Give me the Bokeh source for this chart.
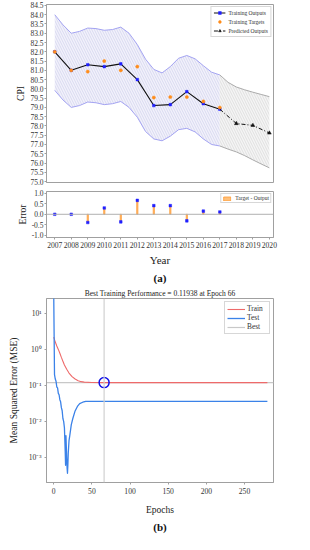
from bokeh.plotting import figure
from bokeh.layouts import column
from bokeh.models import (Range1d, FixedTicker, Span, Legend, LegendItem, Title,
                          PrintfTickFormatter)
from bokeh.embed import file_html
from bokeh.resources import INLINE

# ---------------- data: panel (a) ----------------
years_train = [2007, 2008, 2009, 2010, 2011, 2012, 2013, 2014, 2015, 2016, 2017]
train_outputs = [82.0, 81.0, 81.3, 81.2, 81.35, 80.5, 79.1, 79.15, 79.85, 79.2, 78.9]
train_targets = [82.0, 81.0, 80.93, 81.5, 81.0, 81.2, 79.53, 79.56, 79.56, 79.32, 78.99]
years_pred = [2017, 2018, 2019, 2020]
pred_outputs = [78.9, 78.13, 78.03, 77.62]
errors = [0.0, 0.0, -0.39, 0.3, -0.36, 0.66, 0.41, 0.41, -0.31, 0.15, 0.11]

band_years = [2007.0, 2007.5, 2008.0, 2008.5, 2009.0, 2009.5, 2010.0, 2010.5, 2011.0,
              2011.5, 2012.0, 2012.5, 2013.0, 2013.5, 2014.0, 2014.5, 2015.0, 2015.5,
              2016.0, 2016.5, 2017.0]
band_upper = [84.0, 83.45, 83.0, 83.1, 83.28, 83.25, 83.16, 83.2, 83.33, 83.0, 82.39,
              81.6, 81.05, 80.86, 81.2, 81.65, 81.8, 81.62, 81.25, 80.9, 80.75]
band_lower = [79.92, 79.4, 79.0, 79.1, 79.29, 79.25, 79.15, 79.2, 79.32, 79.0, 78.47,
              77.7, 77.3, 77.2, 77.45, 77.8, 77.87, 77.68, 77.3, 77.0, 76.92]
pred_band_years = [2017.0, 2017.5, 2018.0, 2018.5, 2019.0, 2019.5, 2020.0]
pred_band_upper = [80.75, 80.35, 80.1, 79.95, 79.82, 79.7, 79.58]
pred_band_lower = [76.92, 76.75, 76.6, 76.4, 76.17, 75.95, 75.74]

cpi_ticks = [75.0, 75.5, 76.0, 76.5, 77.0, 77.5, 78.0, 78.5, 79.0, 79.5, 80.0, 80.5,
             81.0, 81.5, 82.0, 82.5, 83.0, 83.5, 84.0, 84.5]
error_ticks = [-1.0, -0.5, 0.0, 0.5, 1.0]
year_ticks = [2007, 2008, 2009, 2010, 2011, 2012, 2013, 2014, 2015, 2016, 2017, 2018, 2019, 2020]

# ---------------- data: panel (b) ----------------
train_epochs = [0, 2, 4, 6, 8, 10, 12, 14, 17, 20, 24, 28, 32, 36, 40, 50, 66, 280]
train_mse = [2.2, 1.6, 1.25, 1.0, 0.78, 0.6, 0.47, 0.37, 0.28, 0.22, 0.175, 0.15,
             0.135, 0.127, 0.123, 0.12, 0.11938, 0.1193]
test_epochs = [0, 1, 2, 3, 4, 5, 6, 7, 8, 9, 10, 11, 12, 13, 14, 15, 15.5, 16, 17,
               17.5, 18, 18.5, 19, 20, 21, 23, 25, 28, 31, 34, 38, 42, 50, 280]
test_mse = [30.0, 0.2, 0.15, 0.13, 0.09, 0.085, 0.06, 0.055, 0.04, 0.035, 0.024, 0.02,
            0.012, 0.01, 0.0066, 0.0015, 0.0006, 0.004, 0.0009, 0.0005, 0.00036,
            0.0006, 0.0013, 0.0029, 0.004, 0.0081, 0.012, 0.0195, 0.026, 0.031, 0.034,
            0.036, 0.036, 0.036]
best_epoch = 66
best_perf = 0.11938
epoch_ticks = [0, 50, 100, 150, 200, 250]
mse_ticks = [0.001, 0.01, 0.1, 1.0, 10.0]
mse_tick_labels = ["10\u207b\u00b3", "10\u207b\u00b2", "10\u207b\u00b9", "10\u2070", "10\u00b9"]

SERIF = "Liberation Serif"
AXC = "#a0a0a0"


def style_axis(ax, tick_size="7.5px", label_size="10px"):
    ax.axis_line_color = AXC
    ax.major_tick_line_color = AXC
    ax.minor_tick_line_color = None
    ax.major_tick_out = 2
    ax.major_tick_in = 0
    ax.major_label_text_font = SERIF
    ax.major_label_text_font_size = tick_size
    ax.major_label_text_color = "#333333"
    ax.major_label_standoff = 1
    ax.axis_label_text_font = SERIF
    ax.axis_label_text_font_style = "normal"
    ax.axis_label_text_font_size = label_size
    ax.axis_label_text_color = "#222222"
    ax.axis_label_standoff = 1


def base(p):
    p.outline_line_color = AXC
    p.xgrid.grid_line_color = None
    p.ygrid.grid_line_color = None
    p.background_fill_color = "white"
    p.border_fill_color = "white"


# ================= panel (a) top: CPI =================
x_rng = (2006.5, 2020.25)
p1 = figure(width=294, height=188, x_range=Range1d(*x_rng), y_range=Range1d(74.95, 84.55),
            output_backend="svg", toolbar_location=None,
            min_border_left=27, min_border_right=3, min_border_top=4, min_border_bottom=6)
base(p1)
p1.xaxis.visible = False
p1.yaxis.ticker = FixedTicker(ticks=cpi_ticks)
p1.yaxis.formatter = PrintfTickFormatter(format="%.1f")
p1.yaxis.axis_label = "CPI"
style_axis(p1.yaxis[0], "7.5px", "9.5px")

p1.varea(x=band_years, y1=band_lower, y2=band_upper, fill_color="#f2f2fb",
         hatch_pattern="\\", hatch_color="#c8c8e8", hatch_scale=5, hatch_weight=0.6)
p1.line(band_years, band_upper, line_color="#a4a4f2", line_width=1)
p1.line(band_years, band_lower, line_color="#a4a4f2", line_width=1)
p1.varea(x=pred_band_years, y1=pred_band_lower, y2=pred_band_upper, fill_color="#f5f5f5",
         hatch_pattern="\\", hatch_color="#d2d2d2", hatch_scale=5, hatch_weight=0.6)
p1.line(pred_band_years, pred_band_upper, line_color="#ababab", line_width=1)
p1.line(pred_band_years, pred_band_lower, line_color="#ababab", line_width=1)

l_out = p1.line(years_train, train_outputs, line_color="#111111", line_width=1.1)
s_out = p1.scatter(years_train, train_outputs, marker="square", size=2.6,
                   fill_color="#2020ff", line_color="#2020ff", line_width=0.5)
s_tar = p1.scatter(years_train, train_targets, marker="circle", size=3.2,
                   fill_color="#ff8c1a", line_color="#ff8c1a", line_width=0.5)
l_pred = p1.line(years_pred, pred_outputs, line_color="#111111", line_dash="4 2 1 2",
                 line_width=1)
s_pred = p1.scatter(years_pred[1:], pred_outputs[1:], marker="triangle", size=3.8,
                    fill_color="#111111", line_color="#111111", line_width=0.5)

leg1 = Legend(items=[LegendItem(label="Training Outputs", renderers=[l_out, s_out]),
                     LegendItem(label="Training Targets", renderers=[s_tar]),
                     LegendItem(label="Predicted Outputs", renderers=[l_pred, s_pred])],
              location="top_right", label_text_font=SERIF, label_text_font_size="5.5px",
              label_text_color="#333333", glyph_width=12, glyph_height=7, label_height=7,
              spacing=2, padding=2, margin=2, label_standoff=3,
              border_line_color="#b0b0b0", background_fill_alpha=1.0)
p1.add_layout(leg1)

# ================= panel (a) bottom: Error =================
p2 = figure(width=294, height=96, x_range=Range1d(*x_rng), y_range=Range1d(-1.1, 1.08),
            output_backend="svg", toolbar_location=None,
            min_border_left=27, min_border_right=3, min_border_top=3, min_border_bottom=47)
base(p2)
p2.yaxis.ticker = FixedTicker(ticks=error_ticks)
p2.yaxis.formatter = PrintfTickFormatter(format="%.1f")
p2.yaxis.axis_label = "Error"
p2.xaxis.ticker = FixedTicker(ticks=year_ticks)
p2.xaxis.axis_label = "Year"
style_axis(p2.yaxis[0], "7.5px", "9.5px")
style_axis(p2.xaxis[0], "7.6px", "11px")
p2.xaxis.major_label_standoff = 2
p2.xaxis.axis_label_standoff = 3

p2.add_layout(Span(location=0, dimension="width", line_color="#b0b0b0", line_width=1))
bars = p2.vbar(x=years_train, top=errors, bottom=0, width=0.07, fill_color="#ffc07a",
               line_color="#ff9a33", line_width=0.8)
p2.scatter(years_train, errors, marker="square", size=2.6, fill_color="#2020ff",
           line_color="#2020ff", line_width=0.5)
leg2 = Legend(items=[LegendItem(label="Target - Output", renderers=[bars])],
              location="top_right", label_text_font=SERIF, label_text_font_size="5.5px",
              label_text_color="#333333", glyph_width=9, glyph_height=5, label_height=5,
              spacing=0, padding=1, margin=2, label_standoff=4,
              border_line_color="#b0b0b0")
p2.add_layout(leg2)
p2.add_layout(Title(text="(a)", align="center", text_font=SERIF, text_font_style="bold",
                    text_font_size="11px", text_color="#111111", standoff=2, offset=-8),
              "below")

# ================= panel (b): MSE =================
p3 = figure(width=294, height=250, x_range=Range1d(-9.5, 288), y_range=Range1d(2e-4, 26),
            y_axis_type="log", output_backend="svg", toolbar_location=None,
            min_border_left=46, min_border_right=21, min_border_top=14, min_border_bottom=52)
base(p3)
p3.title.text = "Best Training Performance = 0.11938 at Epoch 66"
p3.title.align = "center"
p3.title.text_font = SERIF
p3.title.text_font_style = "normal"
p3.title.text_font_size = "7.5px"
p3.title.text_color = "#222222"
p3.title.standoff = 2
p3.xaxis.ticker = FixedTicker(ticks=epoch_ticks)
p3.yaxis.ticker = FixedTicker(ticks=mse_ticks)
p3.yaxis.major_label_overrides = dict(zip(mse_ticks, mse_tick_labels))
p3.xaxis.axis_label = "Epochs"
p3.yaxis.axis_label = "Mean Squared Error (MSE)"
style_axis(p3.xaxis[0], "7.6px", "9.5px")
style_axis(p3.yaxis[0], "7.6px", "9.5px")
p3.xaxis.major_label_standoff = 3
p3.xaxis.axis_label_standoff = 8
p3.yaxis.major_label_standoff = 3
p3.yaxis.axis_label_standoff = 7

p3.add_layout(Span(location=best_epoch, dimension="height", line_color="#d0d0d0",
                   line_width=1.2))
l_best = p3.line([-9.5, 288], [best_perf, best_perf], line_color="#c8c8c8", line_width=1.2)
l_train = p3.line(train_epochs, train_mse, line_color="#ee6a6a", line_width=1.1)
l_test = p3.line(test_epochs, test_mse, line_color="#3b82e8", line_width=1.3,
                 line_join="round")
p3.scatter([best_epoch], [best_perf], marker="circle", size=10, fill_color=None,
           line_color="#1010e8", line_width=1.5)
leg3 = Legend(items=[LegendItem(label="Train", renderers=[l_train]),
                     LegendItem(label="Test", renderers=[l_test]),
                     LegendItem(label="Best", renderers=[l_best])],
              location="top_right", label_text_font=SERIF, label_text_font_size="7.4px",
              label_text_color="#333333", glyph_width=18, glyph_height=8, label_height=8,
              spacing=0, padding=2, margin=3, label_standoff=2,
              border_line_color="#b0b0b0")
p3.add_layout(leg3)
p3.add_layout(Title(text="(b)", align="center", text_font=SERIF, text_font_style="bold",
                    text_font_size="11px", text_color="#111111", standoff=2, offset=-8),
              "below")

layout = column(p1, p2, p3, spacing=0)
open("out.html", "w").write(file_html(layout, INLINE))
